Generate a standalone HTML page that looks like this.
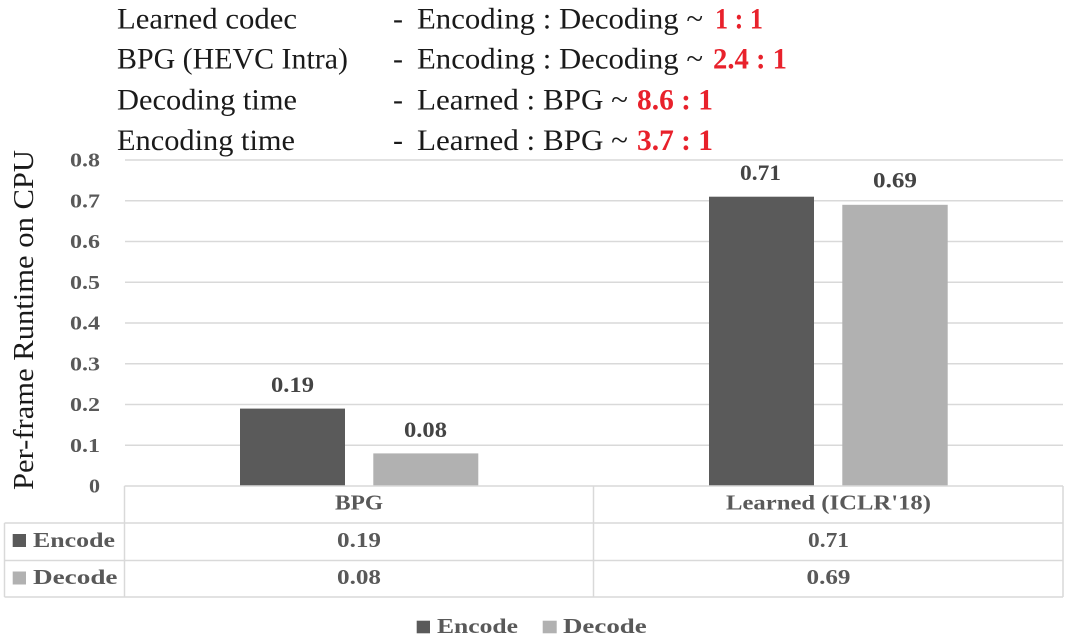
<!DOCTYPE html>
<html>
<head>
<meta charset="utf-8">
<style>
  html, body { margin: 0; padding: 0; background: #ffffff; }
  body { width: 1080px; height: 642px; overflow: hidden; }
  svg { display: block; }
  .top { font-family: "Liberation Serif", serif; font-size: 30px; fill: #1a1a1a; }
  .red { font-family: "Liberation Serif", serif; font-size: 30px; fill: #e8212b; font-weight: bold; }
  .tick { font-family: "Liberation Serif", serif; font-size: 20px; fill: #595959; font-weight: bold; }
  .dl { font-family: "Liberation Serif", serif; font-size: 22px; fill: #444444; font-weight: bold; }
  .tb { font-family: "Liberation Serif", serif; font-size: 21px; fill: #595959; font-weight: bold; }
  .ytitle { font-family: "Liberation Serif", serif; font-size: 28px; fill: #1a1a1a; }
</style>
</head>
<body>
<svg width="1080" height="642" viewBox="0 0 1080 642" xmlns="http://www.w3.org/2000/svg">
  <rect x="0" y="0" width="1080" height="642" fill="#ffffff"/>

  <!-- Top annotation text -->
  <text class="top" x="117" y="28.5" textLength="180" lengthAdjust="spacingAndGlyphs">Learned codec</text>
  <text class="top" x="117" y="68.5" textLength="231" lengthAdjust="spacingAndGlyphs">BPG (HEVC Intra)</text>
  <text class="top" x="117" y="109.5" textLength="180" lengthAdjust="spacingAndGlyphs">Decoding time</text>
  <text class="top" x="117" y="150" textLength="178" lengthAdjust="spacingAndGlyphs">Encoding time</text>

  <text class="top" x="393" y="28.5">-</text>
  <text class="top" x="393" y="68.5">-</text>
  <text class="top" x="393" y="109.5">-</text>
  <text class="top" x="393" y="150">-</text>

  <text class="top" x="417" y="28.5" textLength="286" lengthAdjust="spacingAndGlyphs">Encoding : Decoding ~</text>
  <text class="red" x="715" y="28.5" textLength="48" lengthAdjust="spacingAndGlyphs">1 : 1</text>
  <text class="top" x="417" y="68.5" textLength="286" lengthAdjust="spacingAndGlyphs">Encoding : Decoding ~</text>
  <text class="red" x="713" y="68.5" textLength="74" lengthAdjust="spacingAndGlyphs">2.4 : 1</text>
  <text class="top" x="417" y="109.5" textLength="211" lengthAdjust="spacingAndGlyphs">Learned : BPG ~</text>
  <text class="red" x="637" y="109.5" textLength="76" lengthAdjust="spacingAndGlyphs">8.6 : 1</text>
  <text class="top" x="417" y="150" textLength="211" lengthAdjust="spacingAndGlyphs">Learned : BPG ~</text>
  <text class="red" x="637" y="150" textLength="76" lengthAdjust="spacingAndGlyphs">3.7 : 1</text>

  <!-- Gridlines -->
  <g stroke="#d9d9d9" stroke-width="1.5">
    <line x1="125" y1="160" x2="1063" y2="160"/>
    <line x1="125" y1="200.75" x2="1063" y2="200.75"/>
    <line x1="125" y1="241.5" x2="1063" y2="241.5"/>
    <line x1="125" y1="282.25" x2="1063" y2="282.25"/>
    <line x1="125" y1="323" x2="1063" y2="323"/>
    <line x1="125" y1="363.75" x2="1063" y2="363.75"/>
    <line x1="125" y1="404.5" x2="1063" y2="404.5"/>
    <line x1="125" y1="445.25" x2="1063" y2="445.25"/>
  </g>

  <!-- Y tick labels -->
  <g text-anchor="end">
    <text class="tick" x="100" y="166.5" textLength="30" lengthAdjust="spacingAndGlyphs">0.8</text>
    <text class="tick" x="100" y="207.25" textLength="30" lengthAdjust="spacingAndGlyphs">0.7</text>
    <text class="tick" x="100" y="248" textLength="30" lengthAdjust="spacingAndGlyphs">0.6</text>
    <text class="tick" x="100" y="288.75" textLength="30" lengthAdjust="spacingAndGlyphs">0.5</text>
    <text class="tick" x="100" y="329.5" textLength="30" lengthAdjust="spacingAndGlyphs">0.4</text>
    <text class="tick" x="100" y="370.25" textLength="30" lengthAdjust="spacingAndGlyphs">0.3</text>
    <text class="tick" x="100" y="411" textLength="30" lengthAdjust="spacingAndGlyphs">0.2</text>
    <text class="tick" x="100" y="451.75" textLength="30" lengthAdjust="spacingAndGlyphs">0.1</text>
    <text class="tick" x="100" y="492.5" textLength="11" lengthAdjust="spacingAndGlyphs">0</text>
  </g>

  <!-- Y axis title -->
  <text class="ytitle" transform="translate(33,490) rotate(-90)" x="0" y="0" textLength="340" lengthAdjust="spacingAndGlyphs">Per-frame Runtime on CPU</text>

  <!-- Bars -->
  <rect x="240" y="408.6" width="105" height="77.4" fill="#5a5a5a"/>
  <rect x="373.3" y="453.4" width="105" height="32.6" fill="#b1b1b1"/>
  <rect x="709" y="196.7" width="105" height="289.3" fill="#5a5a5a"/>
  <rect x="842.3" y="204.8" width="105.4" height="281.2" fill="#b1b1b1"/>

  <!-- Data labels -->
  <g text-anchor="middle">
    <text class="dl" x="292.5" y="392" textLength="43" lengthAdjust="spacingAndGlyphs">0.19</text>
    <text class="dl" x="425.5" y="437" textLength="43" lengthAdjust="spacingAndGlyphs">0.08</text>
    <text class="dl" x="760.5" y="180" textLength="41" lengthAdjust="spacingAndGlyphs">0.71</text>
    <text class="dl" x="895" y="187.5" textLength="44" lengthAdjust="spacingAndGlyphs">0.69</text>
  </g>

  <!-- Data table -->
  <g stroke="#d9d9d9" stroke-width="1.5" fill="none">
    <line x1="124.5" y1="486" x2="1063" y2="486"/>
    <line x1="4.5" y1="523" x2="1063" y2="523"/>
    <line x1="4.5" y1="560.5" x2="1063" y2="560.5"/>
    <line x1="4.5" y1="597" x2="1063" y2="597"/>
    <line x1="4.5" y1="523" x2="4.5" y2="597"/>
    <line x1="124.5" y1="486" x2="124.5" y2="597"/>
    <line x1="593.5" y1="486" x2="593.5" y2="597"/>
    <line x1="1063" y1="486" x2="1063" y2="597"/>
  </g>

  <g text-anchor="middle">
    <text class="tb" x="359" y="509.5" textLength="48" lengthAdjust="spacingAndGlyphs">BPG</text>
    <text class="tb" x="828.5" y="509.5" textLength="205" lengthAdjust="spacingAndGlyphs">Learned (ICLR'18)</text>
    <text class="tb" x="359" y="547" textLength="44" lengthAdjust="spacingAndGlyphs">0.19</text>
    <text class="tb" x="828.5" y="547" textLength="41" lengthAdjust="spacingAndGlyphs">0.71</text>
    <text class="tb" x="359" y="584" textLength="44" lengthAdjust="spacingAndGlyphs">0.08</text>
    <text class="tb" x="828.5" y="584" textLength="44" lengthAdjust="spacingAndGlyphs">0.69</text>
  </g>

  <rect x="12.7" y="534" width="13.3" height="13" fill="#5a5a5a"/>
  <text class="tb" x="33" y="547" textLength="82" lengthAdjust="spacingAndGlyphs">Encode</text>
  <rect x="12.7" y="571.5" width="13.3" height="13" fill="#b1b1b1"/>
  <text class="tb" x="33" y="584" textLength="84.5" lengthAdjust="spacingAndGlyphs">Decode</text>

  <!-- Legend -->
  <rect x="416.7" y="620.7" width="13.3" height="12.6" fill="#5a5a5a"/>
  <text class="tb" x="437" y="633" textLength="81" lengthAdjust="spacingAndGlyphs">Encode</text>
  <rect x="542.7" y="620.7" width="14" height="12.6" fill="#b1b1b1"/>
  <text class="tb" x="563" y="633" textLength="83.7" lengthAdjust="spacingAndGlyphs">Decode</text>
</svg>
</body>
</html>
